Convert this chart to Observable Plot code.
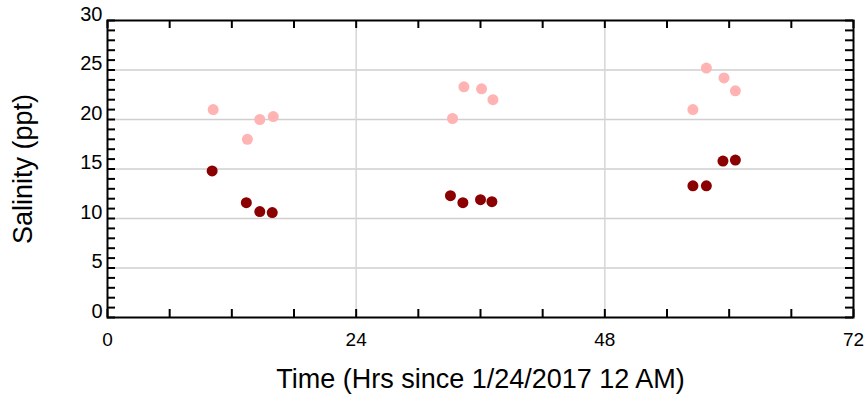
<!DOCTYPE html>
<html>
<head>
<meta charset="utf-8">
<script src="https://cdn.jsdelivr.net/npm/d3@7"></script>
<script src="https://cdn.jsdelivr.net/npm/@observablehq/plot@0.6"></script>
<style>
  html, body { margin: 0; padding: 0; background: #fff; }
  #chart svg { display: block; }
</style>
</head>
<body>
<div id="chart"></div>
<script>
// Light (pink) series
const pinkTime = [10.2, 13.5, 14.7, 16.0, 33.3, 34.4, 36.1, 37.2, 56.5, 57.8, 59.5, 60.6];
const pinkSal  = [21.0, 18.0, 20.0, 20.3, 20.1, 23.3, 23.1, 22.0, 21.0, 25.2, 24.2, 22.9];
// Dark red series
const darkTime = [10.1, 13.4, 14.7, 15.9, 33.1, 34.3, 36.0, 37.1, 56.5, 57.8, 59.4, 60.6];
const darkSal  = [14.8, 11.6, 10.7, 10.6, 12.3, 11.6, 11.9, 11.7, 13.3, 13.3, 15.8, 15.9];

const xTickLabels = [0, 24, 48, 72];
const xMinorTicks = [0, 6, 12, 18, 24, 30, 36, 42, 48, 54, 60, 66, 72];
const yTickLabels = [0, 5, 10, 15, 20, 25, 30];
const yMinorTicks = d3.range(0, 31);
const xGrid = [24, 48];
const yGrid = [5, 10, 15, 20, 25];

const pink = pinkTime.map((t, i) => ({t, s: pinkSal[i]}));
const dark = darkTime.map((t, i) => ({t, s: darkSal[i]}));

const W = 865, H = 400, mL = 107, mR = 12, mT = 20, mB = 83;
const pw = W - mL - mR, ph = H - mT - mB;
const tickLen = 8;

const chart = Plot.plot({
  width: W, height: H,
  marginLeft: mL, marginRight: mR, marginTop: mT, marginBottom: mB,
  style: {fontFamily: "'Liberation Sans', Arial, Helvetica, sans-serif", background: "#fff"},
  x: {domain: [0, 72], axis: null},
  y: {domain: [0, 30], axis: null},
  marks: [
    Plot.ruleY(yGrid, {y: d => d, stroke: "#cfcfcf", strokeWidth: 1.5}),
    Plot.ruleX(xGrid, {x: d => d, stroke: "#d6d6d6", strokeWidth: 1.5}),
    // left & right ticks
    Plot.tickY(yMinorTicks, {y: d => d, insetRight: pw - tickLen, stroke: "black", strokeWidth: 2}),
    Plot.tickY(yMinorTicks, {y: d => d, insetLeft: pw - tickLen, stroke: "black", strokeWidth: 2}),
    // top & bottom ticks
    Plot.tickX(xMinorTicks, {x: d => d, insetBottom: ph - tickLen, stroke: "black", strokeWidth: 2}),
    Plot.tickX(xMinorTicks, {x: d => d, insetTop: ph - tickLen, stroke: "black", strokeWidth: 2}),
    Plot.frame({stroke: "black", strokeWidth: 2}),
    Plot.dot(pink, {x: "t", y: "s", r: 5.5, fill: "#ffb3b3", stroke: "none"}),
    Plot.dot(dark, {x: "t", y: "s", r: 5.5, fill: "#8b0000", stroke: "none"}),
    // tick labels
    Plot.text(yTickLabels, {y: d => d, text: d => String(d), frameAnchor: "left", dx: -5, textAnchor: "end", lineAnchor: "bottom", fontSize: 20, fill: "black"}),
    Plot.text(xTickLabels, {x: d => d, text: d => String(d), frameAnchor: "bottom", dy: 15, lineAnchor: "top", textAnchor: "middle", fontSize: 19, fill: "black"}),
    // axis titles
    Plot.text(["Salinity (ppt)"], {text: d => d, frameAnchor: "left", dx: -84, rotate: -90, textAnchor: "middle", lineAnchor: "middle", fontSize: 27, fill: "black"}),
    Plot.text(["Time (Hrs since 1/24/2017 12 AM)"], {text: d => d, frameAnchor: "bottom", dy: 62, textAnchor: "middle", lineAnchor: "middle", fontSize: 27, fill: "black"})
  ]
});
document.getElementById("chart").appendChild(chart);
</script>
</body>
</html>
